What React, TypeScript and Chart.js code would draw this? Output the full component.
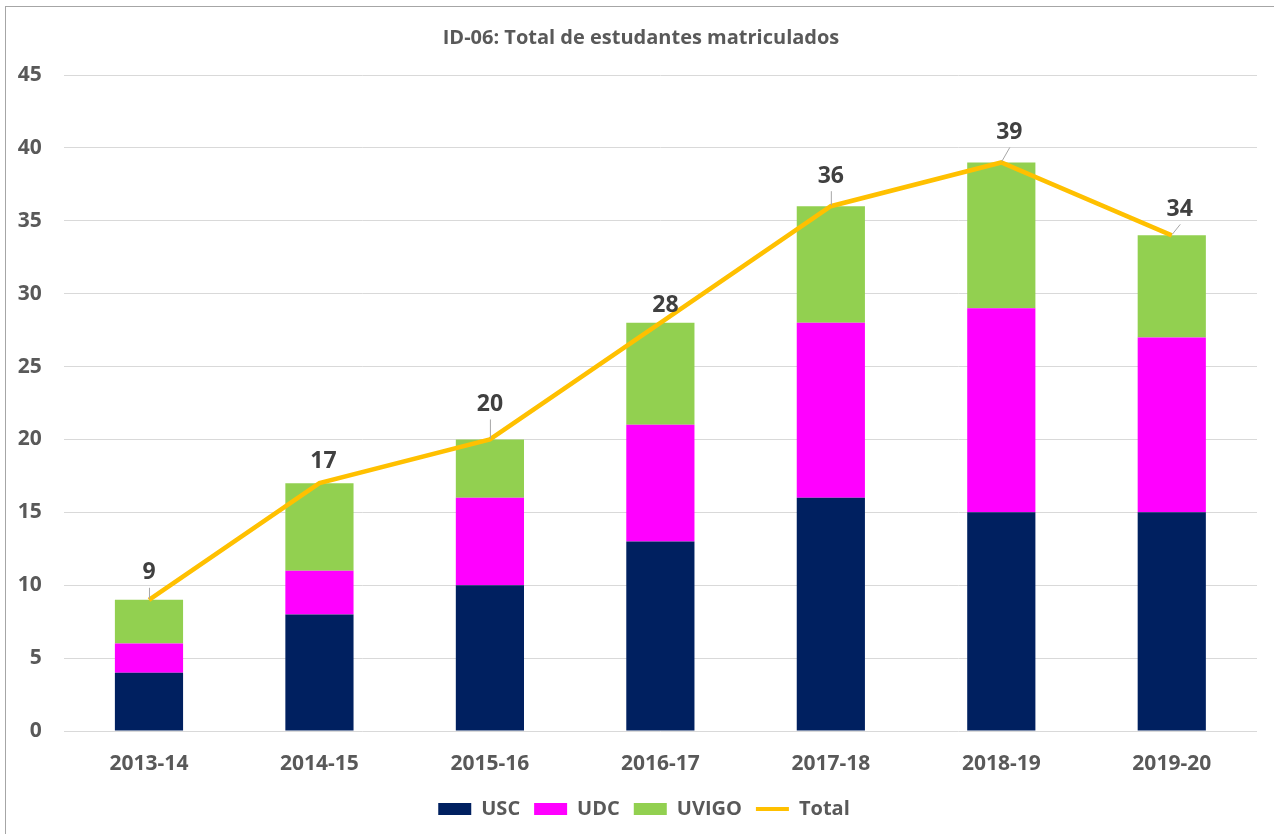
import React, { useEffect, useRef } from "react";
import { Chart, registerables } from "chart.js";

Chart.register(...registerables);

const categories = ["2013-14", "2014-15", "2015-16", "2016-17", "2017-18", "2018-19", "2019-20"];
const usc = [4, 8, 10, 13, 16, 15, 15];
const udc = [2, 3, 6, 8, 12, 14, 12];
const uvigo = [3, 6, 4, 7, 8, 10, 7];
const total = [9, 17, 20, 28, 36, 39, 34];
const yMin = 0;
const yMax = 45;
const yStep = 5;

const FONT = '"Open Sans", "DejaVu Sans", sans-serif';
const LABEL_OFFSETS: [number, number][] = [
  [0, -27], [4, -22], [0, -35], [5, -17], [0, -30], [8, -30], [8, -26],
];

const totalLabels = {
  id: "totalLabels",
  afterLayout(chart: any) {
    if (chart.legend) chart.legend.left = 31;
    if (chart.titleBlock) chart.titleBlock.left = 25;
  },
  afterDatasetsDraw(chart: any) {
    const meta = chart.getDatasetMeta(3);
    const ctx = chart.ctx;
    ctx.save();
    ctx.font = `bold 23px ${FONT}`;
    ctx.fillStyle = "#404040";
    ctx.textAlign = "center";
    ctx.textBaseline = "middle";
    meta.data.forEach((pt: any, i: number) => {
      const [dx, dy] = LABEL_OFFSETS[i];
      const lx = pt.x + dx;
      const ly = pt.y + dy;
      if (-dy > 24) {
        ctx.beginPath();
        ctx.strokeStyle = "#a6a6a6";
        ctx.lineWidth = 1;
        ctx.moveTo(pt.x + 0.5, pt.y - 1);
        ctx.lineTo(lx + 0.5, ly + 15);
        ctx.stroke();
      }
      ctx.fillText(String(total[i]), lx, ly);
    });
    ctx.restore();
  },
};

export default function App() {
  const ref = useRef<HTMLCanvasElement | null>(null);
  useEffect(() => {
    if (!ref.current) return;
    const chart = new Chart(ref.current, {
      type: "bar",
      data: {
        labels: categories,
        datasets: [
          { label: "USC", data: usc, backgroundColor: "#002060", stack: "s", order: 1 },
          { label: "UDC", data: udc, backgroundColor: "#ff00ff", stack: "s", order: 1 },
          { label: "UVIGO", data: uvigo, backgroundColor: "#92d050", stack: "s", order: 1 },
          {
            type: "line",
            label: "Total",
            data: total,
            borderColor: "#ffc000",
            backgroundColor: "#ffc000",
            borderWidth: 4.5,
            pointRadius: 0,
            tension: 0,
            stack: "t",
            order: 0,
          } as any,
        ],
      },
      options: {
        responsive: false,
        animation: false,
        devicePixelRatio: 1,
        datasets: { bar: { categoryPercentage: 0.8, barPercentage: 0.5 } },
        layout: { padding: { left: 0, right: 17, top: 0, bottom: 5 } },
        scales: {
          x: {
            stacked: true,
            grid: { display: false },
            border: { display: false },
            ticks: { color: "#595959", font: { family: FONT, size: 21, weight: "bold" }, padding: 12 },
            afterFit: (s: any) => { s.height = 54; },
          },
          y: {
            stacked: true,
            min: yMin,
            max: yMax,
            ticks: { stepSize: yStep, color: "#595959", font: { family: FONT, size: 21, weight: "bold" }, padding: 22 },
            grid: { color: "#d9d9d9", lineWidth: 1, drawTicks: false },
            border: { display: false },
            afterFit: (s: any) => { s.width = 63.75; },
          },
        },
        plugins: {
          tooltip: { enabled: false },
          title: {
            display: true,
            text: "ID-06: Total de estudantes matriculados",
            color: "#595959",
            font: { family: FONT, size: 20, weight: "bold", lineHeight: 1.2 },
            padding: { top: 26.6, bottom: 24.4 },
          },
          legend: {
            position: "bottom",
            labels: {
              color: "#595959",
              font: { family: FONT, size: 20, weight: "bold" },
              usePointStyle: true,
              pointStyleWidth: 33,
              boxWidth: 33,
              boxHeight: 12,
              padding: 14,
              sort: (a: any, b: any) => a.datasetIndex - b.datasetIndex,
              generateLabels: (chart: any) => {
                const items = Chart.defaults.plugins.legend.labels.generateLabels(chart);
                return items.map((it: any) => {
                  if (it.datasetIndex === 3) {
                    return { ...it, pointStyle: "line", strokeStyle: "#ffc000", lineWidth: 4 };
                  }
                  return { ...it, pointStyle: "rect", lineWidth: 0, strokeStyle: it.fillStyle };
                });
              },
            },
          },
        },
      },
      plugins: [totalLabels],
    });
    return () => chart.destroy();
  }, []);

  return (
    <div style={{ position: "fixed", left: 0, top: 0, width: 1274, height: 834, overflow: "hidden", background: "#fff" }}>
      <div
        style={{
          position: "absolute",
          left: 5,
          top: 6,
          width: 1400,
          height: 1000,
          border: "1px solid #a6a6a6",
        }}
      />
      <canvas ref={ref} width={1274} height={834} style={{ position: "absolute", left: 0, top: 0, width: 1274, height: 834 }} />
    </div>
  );
}
